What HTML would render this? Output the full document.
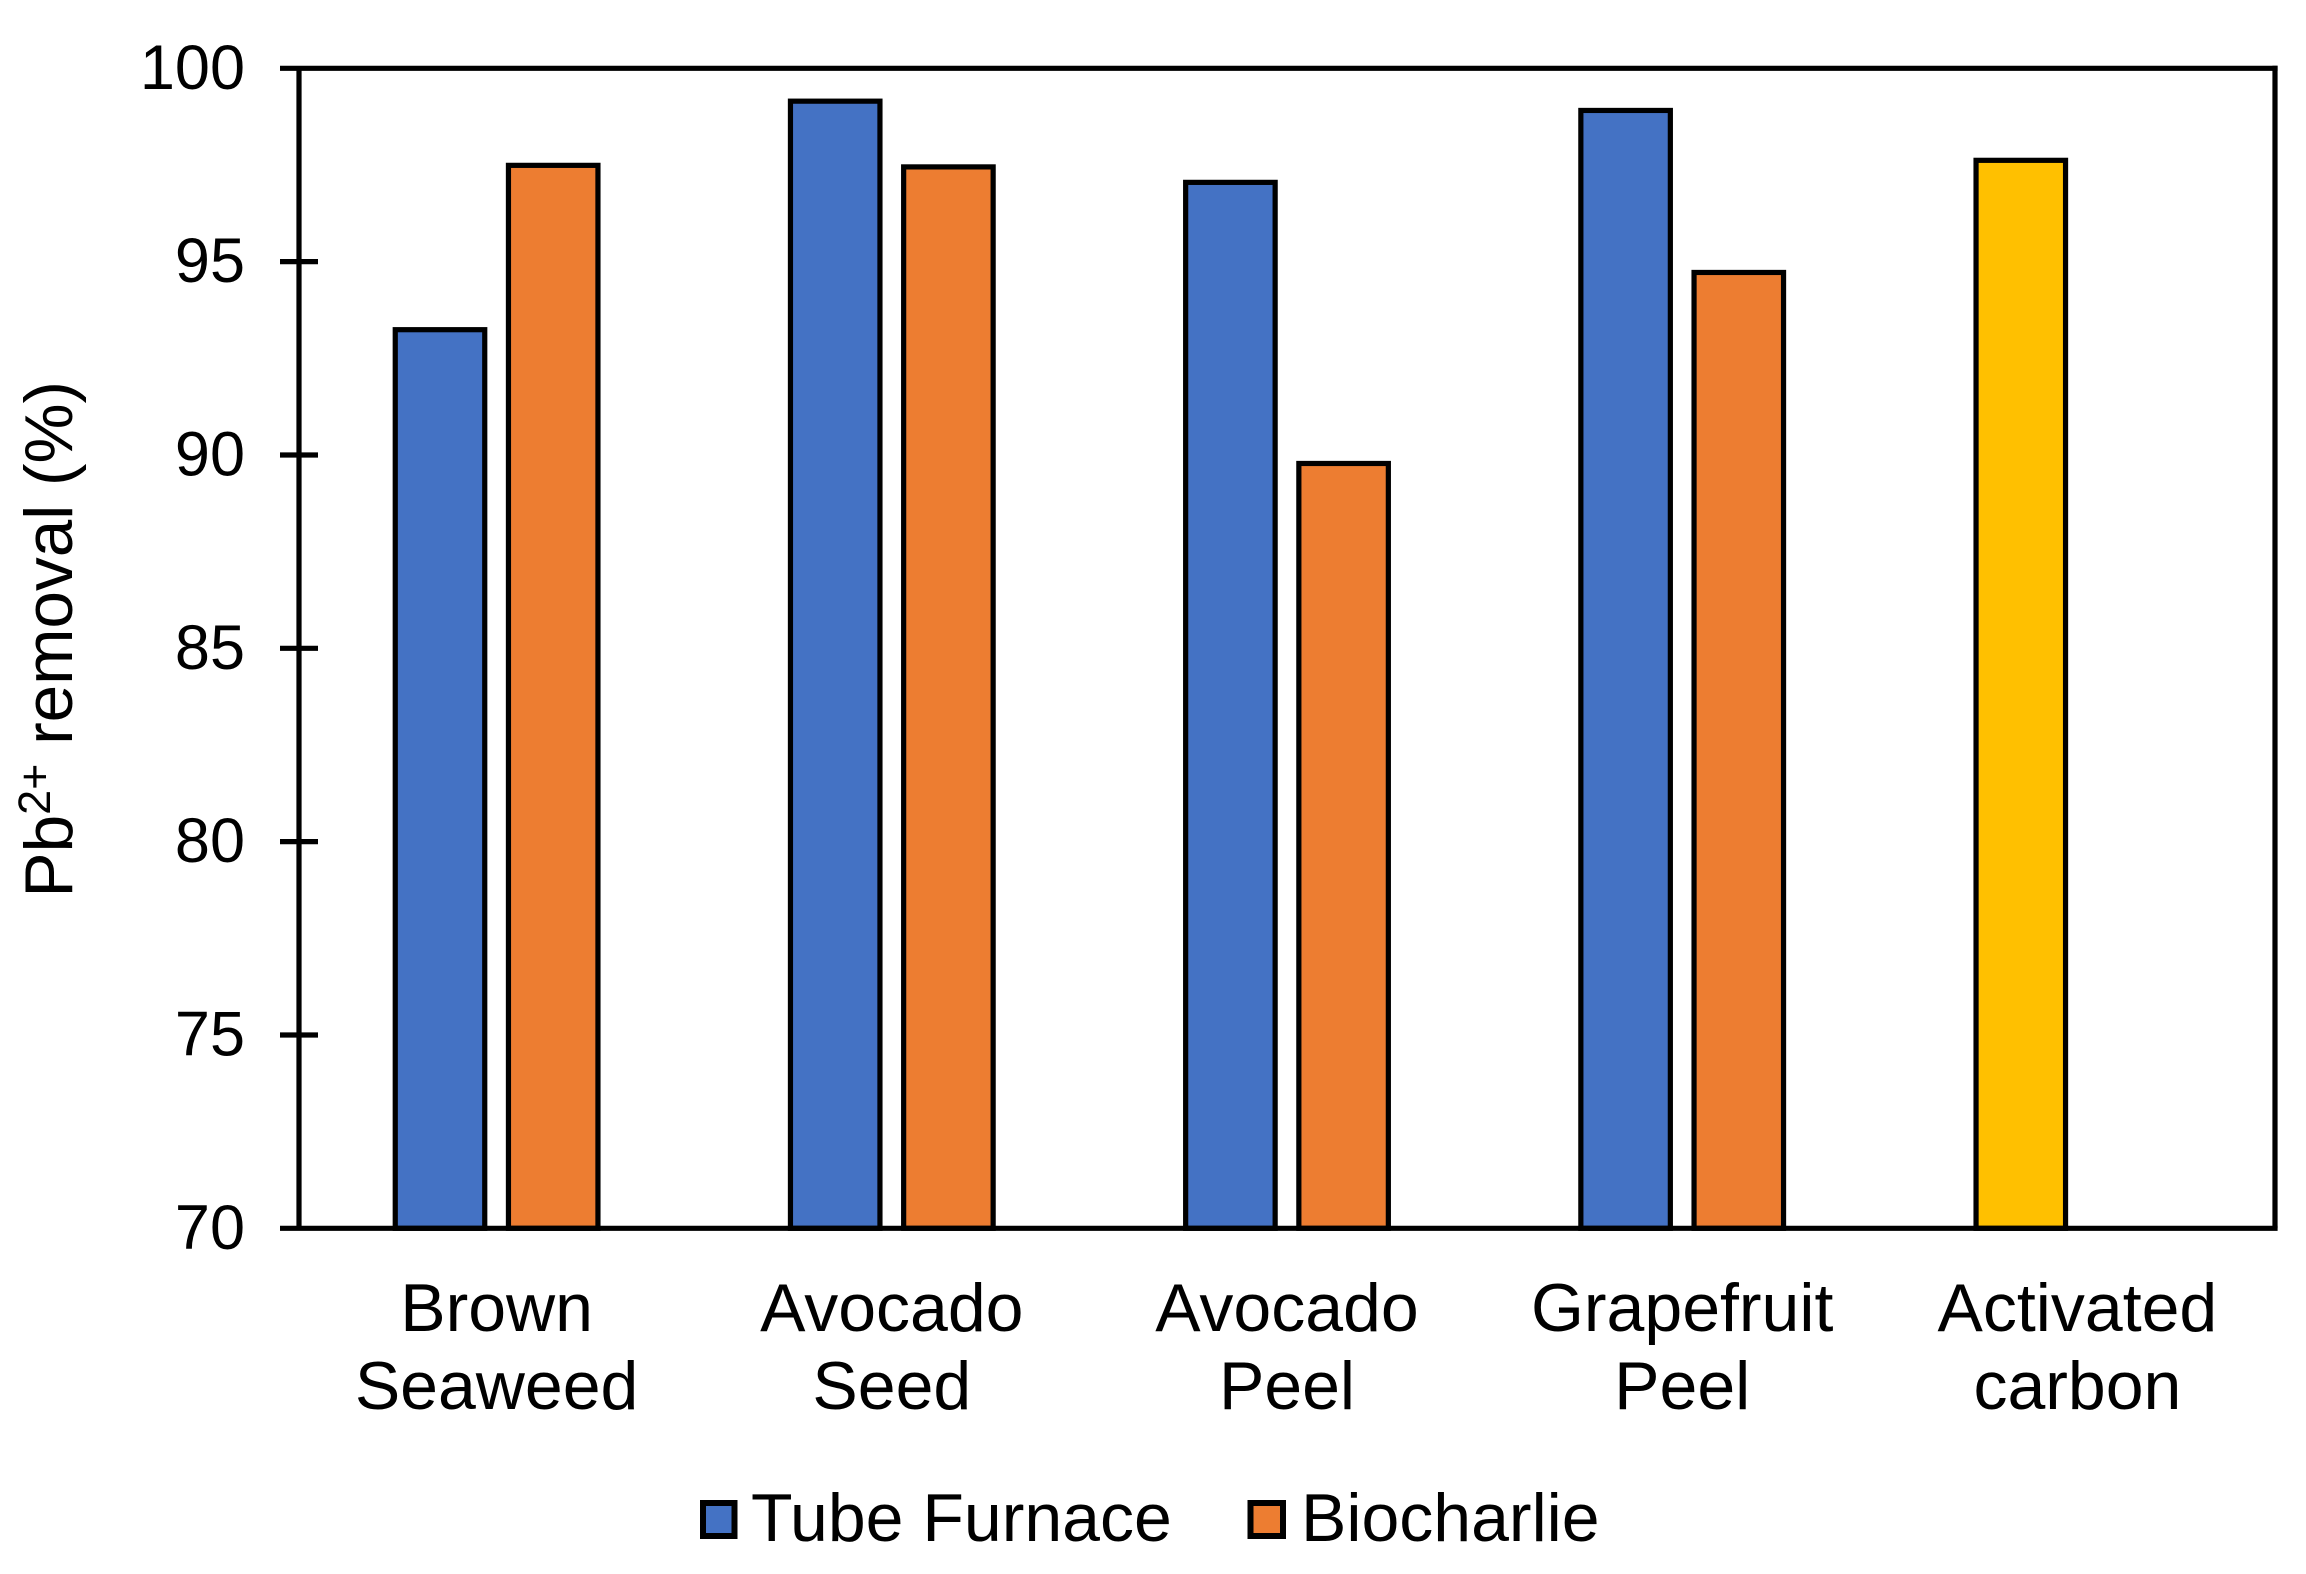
<!DOCTYPE html>
<html lang="en">
<head>
<meta charset="utf-8">
<title>Pb2+ removal chart</title>
<style>
  html, body { margin: 0; padding: 0; background: #fff; }
  svg { display: block; }
  text { font-family: "Liberation Sans", Arial, sans-serif; fill: #000; }
</style>
</head>
<body>
<svg id="chart" xmlns="http://www.w3.org/2000/svg" width="2306" height="1574" viewBox="0 0 2306 1574">
  <rect x="0" y="0" width="2306" height="1574" fill="#ffffff"/>
  <g id="bars"></g>
  <g id="axes"></g>
  <g id="ylabels"></g>
  <g id="xlabels"></g>
  <text transform="translate(72,381) rotate(-90)" text-anchor="end" font-size="67.5">Pb<tspan font-size="45" dy="-22">2+</tspan><tspan dy="22"> removal (%)</tspan></text>
  <g>
    <g>
      <rect x="703" y="1503" width="31.5" height="33" fill="#4472C4" stroke="#000" stroke-width="6"/>
      <text x="751" y="1541" font-size="68">Tube Furnace</text>
    </g>
    <g>
      <rect x="1250.5" y="1503" width="32.5" height="33" fill="#ED7D31" stroke="#000" stroke-width="6"/>
      <text x="1301" y="1541" font-size="68">Biocharlie</text>
    </g>
  </g>
</svg>
<script>
const categories = [["Brown", "Seaweed"], ["Avocado", "Seed"], ["Avocado", "Peel"], ["Grapefruit", "Peel"], ["Activated", "carbon"]];
const tubeFurnace = [93.24, 99.15, 97.05, 98.91, null];
const biocharlie = [97.49, 97.45, 89.78, 94.72, null];
const activatedCarbon = [null, null, null, null, 97.62];
const yTicks = [70, 75, 80, 85, 90, 95, 100];

const NS = "http://www.w3.org/2000/svg";
const plot = { left: 299, right: 2275, top: 68.3, bottom: 1228.3 };
const yMin = 70, yMax = 100;
const barW = 89.5, slotOffset = 56.6, strokeW = 5.2;

function yScale(v) {
  return plot.bottom - (v - yMin) / (yMax - yMin) * (plot.bottom - plot.top);
}
function xCenter(i) {
  return plot.left + (i + 0.5) * (plot.right - plot.left) / categories.length;
}
function line(parent, x1, y1, x2, y2) {
  const l = document.createElementNS(NS, "line");
  l.setAttribute("x1", x1);
  l.setAttribute("y1", y1);
  l.setAttribute("x2", x2);
  l.setAttribute("y2", y2);
  l.setAttribute("stroke", "#000");
  l.setAttribute("stroke-width", strokeW);
  parent.appendChild(l);
  return l;
}
function drawSeries(values, offset, color, label) {
  const g = document.getElementById("bars");
  values.forEach(function (v, i) {
    if (v === null) return;
    const r = document.createElementNS(NS, "rect");
    const cx = xCenter(i) + offset;
    r.setAttribute("x", cx - barW / 2);
    r.setAttribute("y", yScale(v));
    r.setAttribute("width", barW);
    r.setAttribute("height", plot.bottom - yScale(v));
    r.setAttribute("fill", color);
    r.setAttribute("stroke", "#000");
    r.setAttribute("stroke-width", strokeW);
    
    
    g.appendChild(r);
  });
}
drawSeries(tubeFurnace, -slotOffset, "#4472C4", "tube-furnace");
drawSeries(biocharlie, slotOffset, "#ED7D31", "biocharlie");
drawSeries(activatedCarbon, -slotOffset, "#FFC000", "activated-carbon");

const axes = document.getElementById("axes");
const leftAxis = line(axes, plot.left, plot.top, plot.left, plot.bottom);


const rightEdge = line(axes, plot.right, plot.top - 2.6, plot.right, plot.bottom);


const topEdge = line(axes, 280, plot.top, plot.right + 2.6, plot.top);


const bottomEdge = line(axes, 280, plot.bottom, plot.right + 2.6, plot.bottom);



const ylabels = document.getElementById("ylabels");
yTicks.forEach(function (t) {
  const y = yScale(t);
  if (t !== yMin && t !== yMax) {
    const tk = line(axes, 280, y, 318, y);
    
    
  }
  const lb = document.createElementNS(NS, "text");
  lb.setAttribute("x", 245);
  lb.setAttribute("y", y + 20.5);
  lb.setAttribute("text-anchor", "end");
  lb.setAttribute("font-size", "63");
  
  
  lb.textContent = String(t);
  ylabels.appendChild(lb);
});

const xlabels = document.getElementById("xlabels");
categories.forEach(function (c, i) {
  const lb = document.createElementNS(NS, "text");
  lb.setAttribute("text-anchor", "middle");
  lb.setAttribute("font-size", "68");
  
  
  c.forEach(function (part, j) {
    const ts = document.createElementNS(NS, "tspan");
    ts.setAttribute("x", xCenter(i));
    ts.setAttribute("y", 1331 + j * 78);
    ts.textContent = part;
    lb.appendChild(ts);
  });
  xlabels.appendChild(lb);
});
</script>
</body>
</html>
